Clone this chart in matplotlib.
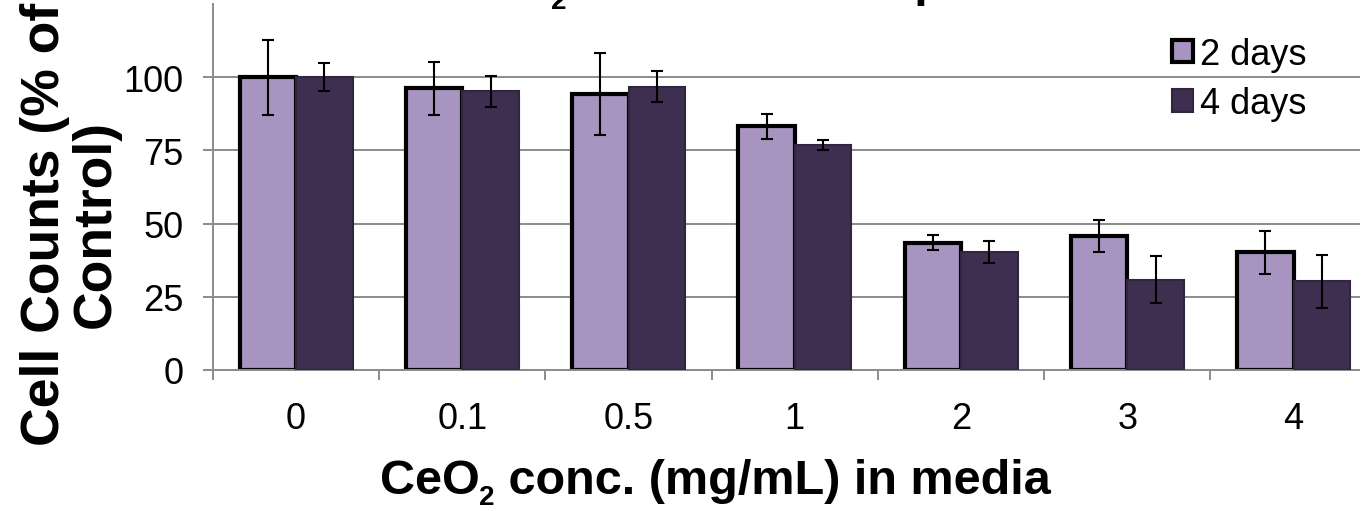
import numpy as np
import matplotlib
matplotlib.use("Agg")
import matplotlib.pyplot as plt

plt.rcParams['font.family'] = ['Liberation Sans', 'DejaVu Sans']

# data
conc_labels = ['0', '0.1', '0.5', '1', '2', '3', '4']
days2 = [100, 96.2, 94.2, 83.2, 43.5, 45.9, 40.2]
days2_err = [12.8, 9.0, 14.0, 4.4, 2.5, 5.5, 7.4]
days4 = [100, 95.2, 96.8, 76.8, 40.4, 30.9, 30.3]
days4_err = [4.7, 5.3, 5.2, 1.7, 3.8, 8.1, 9.1]
series_names = ['2 days', '4 days']
yticks = [0, 25, 50, 75, 100]

light = '#A794C0'
dark = '#3E2F50'
grey = '#8B8B8B'

W, H = 1360, 510
fig = plt.figure(figsize=(W/100, H/100), dpi=100)
ax = fig.add_axes([213/W, 1 - 371/H, 1147/W, 366/H])

x = np.arange(len(conc_labels))
w = 0.34
ax.bar(x - w/2, days2, w, color=light, edgecolor='black', linewidth=3,
       label=series_names[0], zorder=2)
ax.bar(x + w/2, days4, w, color=dark, edgecolor='#32263F', linewidth=1.5,
       label=series_names[1], zorder=3)
ax.errorbar(x - w/2, days2, yerr=days2_err, fmt='none', ecolor='black',
            elinewidth=1.5, capsize=4.3, capthick=1.5, zorder=4)
ax.errorbar(x + w/2, days4, yerr=days4_err, fmt='none', ecolor='black',
            elinewidth=1.5, capsize=4.3, capthick=1.5, zorder=4)

ax.set_xlim(-0.5, 6.4)
ax.set_ylim(0, 125)
ax.set_yticks(yticks)
ax.set_xticks(x)
ax.set_xticklabels(conc_labels)
ax.set_xticks(np.arange(-0.5, 6.0, 1), minor=True)
ax.yaxis.grid(True, color=grey, linewidth=1.4)
ax.set_axisbelow(True)

for s in ['top', 'right']:
    ax.spines[s].set_visible(False)
for s in ['left', 'bottom']:
    ax.spines[s].set_color(grey)
    ax.spines[s].set_linewidth(1.4)

ax.tick_params(axis='y', direction='out', length=7.5, width=1.4, color=grey,
               labelsize=26, pad=14)
ax.tick_params(axis='x', which='major', length=0, labelsize=26, pad=22)
ax.tick_params(axis='x', which='minor', direction='out', length=7.5,
               width=1.4, color=grey)

ax.legend(frameon=False, loc='center left',
          bbox_to_anchor=(1172/W, 1 - 80/H), bbox_transform=fig.transFigure,
          fontsize=26, handlelength=0.58, handleheight=0.58,
          handletextpad=0.2, labelspacing=0.4, borderpad=0, borderaxespad=0)

renderer = fig.canvas.get_renderer()


def pieces(parts, x_px, y_px, align='left'):
    # parts: (text, fontsize, drop in px below the baseline)
    objs = []
    for txt, size, drop in parts:
        t = fig.text(0, 0, txt, fontsize=size, fontweight='bold',
                     ha='left', va='baseline')
        objs.append((t, drop))
    widths = [t.get_window_extent(renderer).width for t, _ in objs]
    start = x_px - sum(widths) / 2 if align == 'center' else x_px
    for (t, drop), wd in zip(objs, widths):
        t.set_position((start / W, 1 - (y_px + drop) / H))
        start += wd
    return widths


# x axis title with a lowered subscript
pieces([('CeO', 35, 0), ('2', 20, 11), (' conc. (mg/mL) in media', 35, 0)],
       715, 494, align='center')

# y axis title
fig.text(70/W, 1 - 224/H, 'Cell Counts (% of\nControl)', rotation=90,
         ha='center', va='center', multialignment='center',
         fontsize=38.5, fontweight='bold', linespacing=1.02)

# chart title, mostly cut off by the top edge
probe = fig.text(0, 0, 'CeO', fontsize=35, fontweight='bold')
head_w = probe.get_window_extent(renderer).width
probe.remove()
pieces([('CeO', 35, 0), ('2', 20, 13), (' Treatment Response', 35, 0)],
       551 - head_w, -4)

fig.savefig('out.png', dpi=100)
